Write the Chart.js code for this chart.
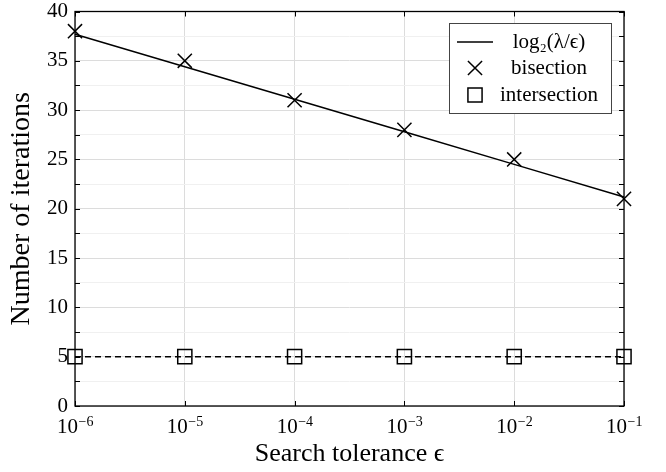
<!DOCTYPE html>
<html>
<head>
<meta charset="utf-8">
<script src="https://cdn.jsdelivr.net/npm/chart.js@4/dist/chart.umd.min.js"></script>
<style>
  html, body { margin: 0; padding: 0; background: #fff; }
  #wrap { width: 666px; height: 472px; }
</style>
</head>
<body>
<div id="wrap"><canvas id="chart" width="666" height="472"></canvas></div>
<script>
// tolerances (x) and iteration counts (y)
const tolerances = [1e-6, 1e-5, 1e-4, 1e-3, 1e-2, 1e-1];
const tickExponents = ['−6', '−5', '−4', '−3', '−2', '−1'];
const boundValues = [37.7, 34.4, 31.1, 27.8, 24.5, 21.2];
const bisectionValues = [38, 35, 31, 28, 25, 21];
const intersectionValues = [5, 5, 5, 5, 5, 5];

const serif = '"Liberation Serif", "DejaVu Serif", serif';

function toPoints(values) {
    return tolerances.map((t, i) => ({ x: t, y: values[i] }));
}

// frame, inward ticks, x tick labels with exponents, boxed legend
const framePlugin = {
    id: 'frame',
    afterDatasetsDraw(chart) {
        const ctx = chart.ctx;
        const a = chart.chartArea;
        const xs = chart.scales.x;
        const ys = chart.scales.y;
        ctx.save();
        ctx.strokeStyle = '#000';
        ctx.lineWidth = 1;
        ctx.beginPath();
        ys.ticks.forEach((t) => {
            const py = Math.round(ys.getPixelForValue(t.value)) + 0.5;
            ctx.moveTo(a.left, py); ctx.lineTo(a.left + 5, py);
            ctx.moveTo(a.right, py); ctx.lineTo(a.right - 5, py);
        });
        xs.ticks.forEach((t) => {
            const px = Math.round(xs.getPixelForValue(t.value)) + 0.5;
            ctx.moveTo(px, a.top); ctx.lineTo(px, a.top + 5);
            ctx.moveTo(px, a.bottom); ctx.lineTo(px, a.bottom - 5);
        });
        ctx.stroke();
        ctx.lineWidth = 1.3;
        ctx.strokeRect(a.left, a.top, a.right - a.left, a.bottom - a.top);

        // x tick labels: 10 with raised exponent
        ctx.fillStyle = '#000';
        ctx.textBaseline = 'alphabetic';
        ctx.textAlign = 'left';
        tolerances.forEach((t, i) => {
            const px = xs.getPixelForValue(t);
            ctx.font = '21px ' + serif;
            const wBase = ctx.measureText('10').width;
            ctx.font = '14px ' + serif;
            const wExp = ctx.measureText(tickExponents[i]).width;
            const x0 = px - (wBase + wExp) / 2;
            ctx.font = '21px ' + serif;
            ctx.fillText('10', x0, 433);
            ctx.font = '14px ' + serif;
            ctx.fillText(tickExponents[i], x0 + wBase + 0.5, 426);
        });

        // legend box
        const bx = 449, by = 23, bw = 162, bh = 90;
        ctx.fillStyle = '#fff';
        ctx.fillRect(bx, by, bw, bh);
        ctx.lineWidth = 1;
        ctx.strokeStyle = '#444';
        ctx.strokeRect(bx + 0.5, by + 0.5, bw, bh);

        const rows = [42, 68, 95];
        const mx = 475;
        ctx.strokeStyle = '#000';
        ctx.lineWidth = 1.5;
        ctx.beginPath();
        ctx.moveTo(457, rows[0]); ctx.lineTo(493, rows[0]);
        ctx.stroke();
        Chart.helpers.drawPoint(ctx, { pointStyle: 'crossRot', radius: 10, borderWidth: 1.5 }, mx, rows[1]);
        ctx.lineWidth = 1.5;
        Chart.helpers.drawPoint(ctx, { pointStyle: 'rect', radius: 10, borderWidth: 1.5 }, mx, rows[2]);

        ctx.fillStyle = '#000';
        ctx.font = '21px ' + serif;
        ctx.textAlign = 'center';
        ctx.textBaseline = 'middle';
        chart.data.datasets.forEach((ds, i) => {
            ctx.fillText(ds.label, 549, rows[i]);
        });
        ctx.restore();
    }
};

const ctx = document.getElementById('chart').getContext('2d');
const chart = new Chart(ctx, {
    type: 'line',
    data: {
        datasets: [
            {
                label: 'log₂(λ/ϵ)',
                data: toPoints(boundValues),
                borderColor: '#000',
                borderWidth: 1.5,
                pointRadius: 0,
                fill: false,
                clip: false,
            },
            {
                label: 'bisection',
                data: toPoints(bisectionValues),
                showLine: false,
                pointStyle: 'crossRot',
                pointRadius: 10,
                pointBorderWidth: 1.5,
                pointBorderColor: '#000',
                pointBackgroundColor: '#000',
                clip: false,
            },
            {
                label: 'intersection',
                data: toPoints(intersectionValues),
                borderColor: '#000',
                borderWidth: 1.5,
                borderDash: [6, 4],
                pointStyle: 'rect',
                pointRadius: 10,
                pointBorderWidth: 1.5,
                pointBorderColor: '#000',
                pointBackgroundColor: 'rgba(0,0,0,0)',
                fill: false,
                clip: false,
            },
        ],
    },
    options: {
        responsive: false,
        animation: false,
        layout: { padding: { top: 10, right: 42, left: 0, bottom: 0 } },
        plugins: {
            legend: { display: false },
            tooltip: { enabled: false },
        },
        scales: {
            x: {
                type: 'logarithmic',
                min: 1e-6,
                max: 1e-1,
                afterBuildTicks: (scale) => {
                    scale.ticks = tolerances.map((v) => ({ value: v }));
                },
                afterFit: (scale) => {
                    scale.height = 66;
                    scale.paddingLeft = 0;
                    scale.paddingRight = 0;
                },
                ticks: {
                    autoSkip: false,
                    maxRotation: 0,
                    font: { family: serif, size: 21 },
                    // drawn by the frame plugin with raised exponents
                    callback: () => '',
                },
                grid: { color: '#dcdcdc', drawTicks: false },
                border: { display: false },
                title: {
                    display: true,
                    text: 'Search tolerance ϵ',
                    color: '#000',
                    font: { family: serif, size: 26 },
                    padding: { top: 0, bottom: 2 },
                },
            },
            y: {
                min: 0,
                max: 40,
                afterFit: (scale) => {
                    scale.width = 75;
                    scale.paddingTop = 0;
                    scale.paddingBottom = 0;
                },
                ticks: {
                    stepSize: 2.5,
                    autoSkip: false,
                    color: '#000',
                    padding: 7,
                    font: { family: serif, size: 21 },
                    callback: (value) => (value % 5 === 0 ? String(value) : ''),
                },
                grid: {
                    drawTicks: false,
                    color: (c) => (c.tick && c.tick.value % 5 === 0 ? '#dcdcdc' : '#f0f0f0'),
                },
                border: { display: false },
                title: {
                    display: true,
                    text: 'Number of iterations',
                    color: '#000',
                    font: { family: serif, size: 28 },
                    padding: { top: 5, bottom: 0 },
                },
            },
        },
    },
    plugins: [framePlugin],
});
</script>
</body>
</html>
